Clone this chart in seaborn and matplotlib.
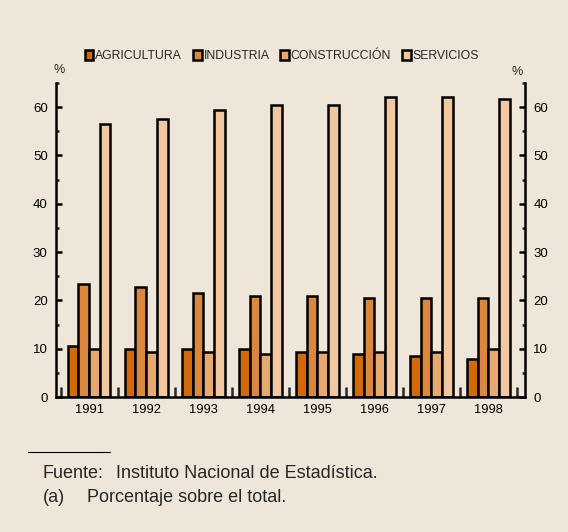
import matplotlib
matplotlib.use("Agg")
import matplotlib.pyplot as plt
import seaborn as sns
import pandas as pd
import numpy as np
from matplotlib.ticker import MultipleLocator, FixedLocator

years = ["1991", "1992", "1993", "1994", "1995", "1996", "1997", "1998"]
sectors = ["AGRICULTURA", "INDUSTRIA", "CONSTRUCCIÓN", "SERVICIOS"]
agricultura = [10.6, 10.0, 10.0, 10.0, 9.4, 8.9, 8.4, 7.8]
industria = [23.3, 22.7, 21.6, 21.0, 21.0, 20.5, 20.5, 20.5]
construccion = [10.0, 9.4, 9.4, 8.9, 9.4, 9.4, 9.4, 10.0]
servicios = [56.6, 57.6, 59.4, 60.5, 60.5, 62.1, 62.1, 61.6]
colors = ["#D2690A", "#DC883C", "#E8A96E", "#F0C79E"]
bg = "#EEE6D8"

rows = []
for name, vals in zip(sectors, [agricultura, industria, construccion, servicios]):
    for y, v in zip(years, vals):
        rows.append({"year": y, "sector": name, "value": v})
df = pd.DataFrame(rows)

sns.set_theme(style="white")
plt.rcParams["font.family"] = ["Liberation Sans", "DejaVu Sans"]

fig = plt.figure(figsize=(5.68, 5.32), dpi=100, facecolor=bg)
ax = fig.add_axes([56/568, 1-397/532, (525-56)/568, (397-83)/532])
ax.set_facecolor(bg)

sns.barplot(data=df, x="year", y="value", hue="sector", hue_order=sectors,
            order=years, palette=colors, width=0.75, edgecolor="black",
            linewidth=1.8, saturation=1, ax=ax, legend=False)

ax.set_xlim(-0.58, 7.64)
ax.set_ylim(0, 65)
ax.set_xlabel("")
ax.set_ylabel("")

for s in ["top"]:
    ax.spines[s].set_visible(False)
for s in ["left", "right", "bottom"]:
    ax.spines[s].set_visible(True)
    ax.spines[s].set_color("black")
    ax.spines[s].set_linewidth(1.8)

ax.yaxis.set_major_locator(MultipleLocator(10))
ax.yaxis.set_minor_locator(MultipleLocator(5))
ax.tick_params(axis="y", which="major", direction="in", length=4, width=1.8,
               labelsize=9.5, left=True, right=True, labelleft=True, labelright=True,
               colors="black", pad=6)
ax.tick_params(axis="y", which="minor", direction="in", length=2, width=1.8,
               left=True, right=True)

ax.xaxis.set_minor_locator(FixedLocator(np.arange(-0.5, 8, 1)))
ax.tick_params(axis="x", which="major", length=0, labelsize=9.3, pad=5, colors="black")
ax.tick_params(axis="x", which="minor", direction="in", length=7, width=1.8,
               bottom=True)

fig.text(59/568, 1-70/532, "%", fontsize=9, ha="center", va="center")
fig.text(517/568, 1-72/532, "%", fontsize=9, ha="center", va="center")

handles = [plt.Rectangle((0, 0), 1, 1, facecolor=c, edgecolor="black", linewidth=1.8)
           for c in colors]
fig.legend(handles, sectors, loc="center", bbox_to_anchor=(282/568, 1-56/532),
           ncol=4, frameon=False, fontsize=8.8, handlelength=0.7, handleheight=0.95,
           handletextpad=0.15, columnspacing=0.9, borderpad=0)

fig.add_artist(plt.Line2D([28/568, 110/568], [1-452/532, 1-452/532],
                          color="black", linewidth=0.8))
fig.text(43/568, 1-474/532, "Fuente:", fontsize=13, va="center", ha="left")
fig.text(116/568, 1-474/532, "Instituto Nacional de Estadística.",
         fontsize=13, va="center", ha="left")
fig.text(43/568, 1-497/532, "(a)", fontsize=13, va="center", ha="left")
fig.text(87/568, 1-497/532, "Porcentaje sobre el total.",
         fontsize=13, va="center", ha="left")

fig.savefig("out.png", dpi=100, facecolor=bg)
